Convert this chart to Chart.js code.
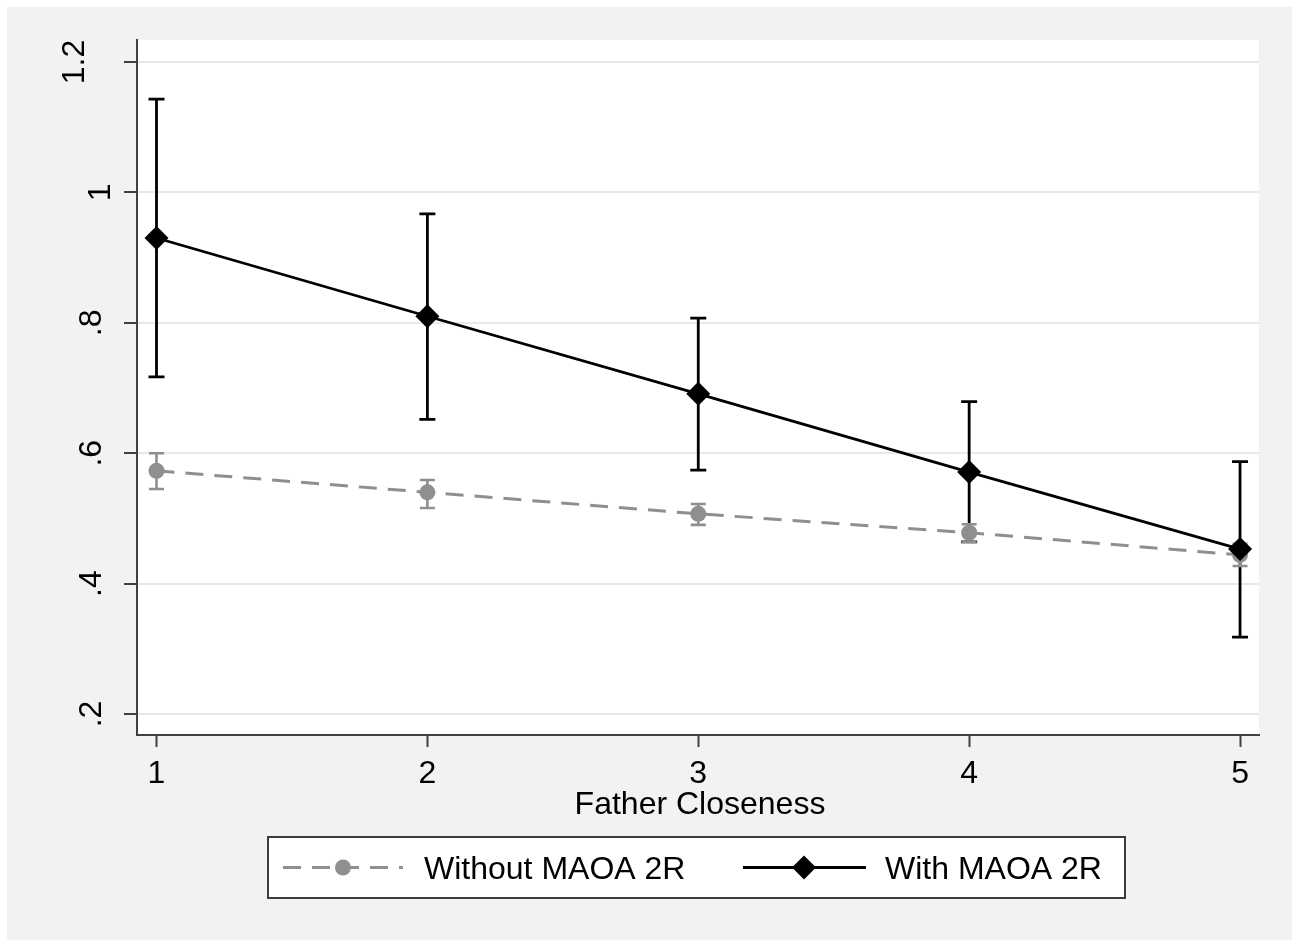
<!DOCTYPE html>
<html><head><meta charset="utf-8">
<script src="https://cdn.jsdelivr.net/npm/chart.js@4.4.1/dist/chart.umd.min.js"></script>
<style>html,body{margin:0;padding:0;background:#fff;overflow:hidden;} #wrap{width:1295px;height:940px;}</style>
</head><body><div id="wrap"><canvas id="c" width="1295" height="940"></canvas></div>
<script>
const categories = [1, 2, 3, 4, 5];
const withoutMean = [0.573, 0.540, 0.507, 0.478, 0.444];
const withoutLow  = [0.545, 0.516, 0.490, 0.464, 0.427];
const withoutHigh = [0.600, 0.559, 0.522, 0.491, 0.461];
const withMean = [0.930, 0.810, 0.691, 0.571, 0.453];
const withLow  = [0.717, 0.652, 0.574, 0.464, 0.318];
const withHigh = [1.143, 0.967, 0.807, 0.679, 0.587];
const yTickValues = [0.2, 0.4, 0.6, 0.8, 1.0, 1.2];
const yTickLabels = ['.2', '.4', '.6', '.8', '1', '1.2'];
const xTickLabels = ['1', '2', '3', '4', '5'];
const xTitle = 'Father Closeness';
const seriesNames = ['Without MAOA 2R', 'With MAOA 2R'];

const FONT = '32px "Liberation Sans", Arial, Helvetica, sans-serif';
const GRAY = '#8f8f8f';
const AXIS = '#404040';

function drawBars(ctx, xs, ys, lo, hi, color, width, cap) {
  ctx.save();
  ctx.strokeStyle = color; ctx.lineWidth = width; ctx.lineCap = 'butt';
  for (let i = 0; i < categories.length; i++) {
    const px = xs.getPixelForValue(categories[i]);
    const pl = ys.getPixelForValue(lo[i]);
    const ph = ys.getPixelForValue(hi[i]);
    ctx.beginPath();
    ctx.moveTo(px, pl); ctx.lineTo(px, ph);
    ctx.moveTo(px - cap, ph); ctx.lineTo(px + cap, ph);
    ctx.moveTo(px - cap, pl); ctx.lineTo(px + cap, pl);
    ctx.stroke();
  }
  ctx.restore();
}

const stataPlugin = {
  id: 'stata',
  beforeDraw(chart) {
    const ctx = chart.ctx, a = chart.chartArea;
    ctx.save();
    ctx.fillStyle = '#ffffff'; ctx.fillRect(0, 0, chart.width, chart.height);
    ctx.fillStyle = '#f2f2f2'; ctx.fillRect(7, 7, 1285, 933);
    ctx.fillStyle = '#ffffff'; ctx.fillRect(a.left, a.top, a.right - a.left, a.bottom - a.top);
    ctx.restore();
  },
  beforeDatasetsDraw(chart) {
    const ctx = chart.ctx, xs = chart.scales.x, ys = chart.scales.y;
    drawBars(ctx, xs, ys, withLow, withHigh, '#000000', 2.8, 8);
    drawBars(ctx, xs, ys, withoutLow, withoutHigh, GRAY, 2.6, 7.5);
  },
  afterDraw(chart) {
    const ctx = chart.ctx, xs = chart.scales.x, ys = chart.scales.y, a = chart.chartArea;
    ctx.save();
    ctx.font = FONT; ctx.fillStyle = '#000000';
    ys.ticks.forEach(t => {
      const py = ys.getPixelForValue(t.value);
      const w = ctx.measureText(t.label).width;
      const cx = 116.5 - w;
      ctx.save();
      ctx.translate(cx + 11.5, py);
      ctx.rotate(-Math.PI / 2);
      ctx.textAlign = 'center'; ctx.textBaseline = 'alphabetic';
      ctx.fillText(t.label, 0, 0);
      ctx.restore();
    });
    ctx.textAlign = 'center'; ctx.textBaseline = 'alphabetic';
    xs.ticks.forEach(t => {
      ctx.fillText(t.label, xs.getPixelForValue(t.value), 783);
    });
    ctx.fillText(xTitle, (a.left + a.right) / 2 + 2, 814);
    const bx = 268, by = 837, bw = 857, bh = 61, ly = by + bh / 2;
    ctx.fillStyle = '#ffffff'; ctx.fillRect(bx, by, bw, bh);
    ctx.strokeStyle = '#3c3c3c'; ctx.lineWidth = 2; ctx.strokeRect(bx, by, bw, bh);
    const ds0 = chart.data.datasets[0], ds1 = chart.data.datasets[1];
    ctx.strokeStyle = ds0.borderColor; ctx.lineWidth = ds0.borderWidth;
    ctx.setLineDash(ds0.borderDash);
    ctx.beginPath(); ctx.moveTo(283, ly); ctx.lineTo(403, ly); ctx.stroke();
    ctx.setLineDash([]);
    ctx.fillStyle = ds0.pointBackgroundColor;
    ctx.beginPath(); ctx.arc(343, ly, ds0.pointRadius, 0, Math.PI * 2); ctx.fill();
    ctx.strokeStyle = ds1.borderColor; ctx.lineWidth = ds1.borderWidth;
    ctx.beginPath(); ctx.moveTo(743, ly); ctx.lineTo(866, ly); ctx.stroke();
    ctx.fillStyle = ds1.pointBackgroundColor;
    const r = ds1.pointRadius;
    ctx.beginPath(); ctx.moveTo(804 - r, ly); ctx.lineTo(804, ly - r); ctx.lineTo(804 + r, ly); ctx.lineTo(804, ly + r); ctx.closePath(); ctx.fill();
    ctx.fillStyle = '#000000'; ctx.textAlign = 'left';
    ctx.fillText(seriesNames[0], 424, ly + 11.5);
    ctx.fillText(seriesNames[1], 885, ly + 11.5);
    ctx.restore();
  }
};

new Chart(document.getElementById('c'), {
  type: 'line',
  data: {
    datasets: [
      {
        label: seriesNames[0],
        data: categories.map((c, i) => ({ x: c, y: withoutMean[i] })),
        borderColor: GRAY, borderWidth: 3, borderDash: [18, 11],
        pointStyle: 'circle', pointRadius: 8, pointBackgroundColor: GRAY, pointBorderWidth: 0,
        pointHoverRadius: 8, tension: 0, fill: false, order: 2
      },
      {
        label: seriesNames[1],
        data: categories.map((c, i) => ({ x: c, y: withMean[i] })),
        borderColor: '#000000', borderWidth: 2.8,
        pointStyle: 'rectRot', pointRadius: 12, pointBackgroundColor: '#000000', pointBorderWidth: 0,
        pointHoverRadius: 12, tension: 0, fill: false, order: 1
      }
    ]
  },
  options: {
    responsive: false, animation: false, devicePixelRatio: 1,
    events: [],
    layout: { padding: { left: 0, top: 40, right: 36, bottom: 0 } },
    plugins: { legend: { display: false }, tooltip: { enabled: false }, title: { display: false } },
    scales: {
      x: {
        type: 'linear', min: 0.928, max: 5.070,
        afterBuildTicks: s => { s.ticks = categories.map(v => ({ value: v })); },
        afterFit: s => { s.height = 205; },
        grid: { drawOnChartArea: false, drawTicks: true, tickLength: 12, tickColor: AXIS, tickWidth: 2 },
        border: { display: true, color: AXIS, width: 2 },
        ticks: { display: false, callback: v => xTickLabels[categories.indexOf(v)] }
      },
      y: {
        type: 'linear', min: 0.1678, max: 1.2337,
        afterBuildTicks: s => { s.ticks = yTickValues.map(v => ({ value: v })); },
        afterFit: s => { s.width = 137; },
        grid: { color: '#e8e8e8', lineWidth: 2, drawTicks: true, tickLength: 13, tickColor: AXIS, tickWidth: 2 },
        border: { display: true, color: AXIS, width: 2 },
        ticks: { display: false, callback: v => yTickLabels[yTickValues.indexOf(v)] }
      }
    }
  },
  plugins: [stataPlugin]
});
</script>
</body></html>
